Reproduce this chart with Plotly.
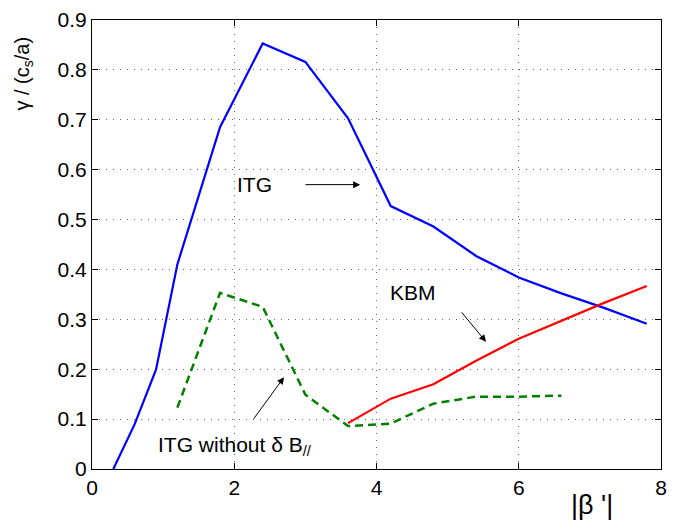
import plotly.graph_objects as go

# ITG (blue)
itg_x = [0.3, 0.6, 0.9, 1.2, 1.8, 2.4, 3.0, 3.6, 4.2, 4.8, 5.4, 6.0, 6.6, 7.2, 7.8]
itg_y = [0.0, 0.09, 0.199, 0.41, 0.685, 0.853, 0.816, 0.703, 0.527, 0.486, 0.427, 0.384, 0.352, 0.323, 0.291]

# KBM (red)
kbm_x = [3.6, 4.2, 4.8, 5.4, 6.0, 6.6, 7.2, 7.8]
kbm_y = [0.092, 0.141, 0.170, 0.217, 0.261, 0.297, 0.333, 0.367]

# ITG without dB_par (green dashed)
itg_nb_x = [1.2, 1.8, 2.4, 3.0, 3.6, 4.2, 4.8, 5.4, 6.0, 6.6]
itg_nb_y = [0.123, 0.353, 0.325, 0.149, 0.086, 0.091, 0.131, 0.145, 0.145, 0.147]

x_ticks = [0, 2, 4, 6, 8]
y_ticks = [0, 0.1, 0.2, 0.3, 0.4, 0.5, 0.6, 0.7, 0.8, 0.9]

FONT = "Liberation Sans, Arial, Helvetica, sans-serif"

fig = go.Figure()
fig.add_trace(go.Scatter(x=itg_x, y=itg_y, mode="lines",
                         line=dict(color="#0000FF", width=2.2), showlegend=False))
fig.add_trace(go.Scatter(x=kbm_x, y=kbm_y, mode="lines",
                         line=dict(color="#FF0000", width=2.2), showlegend=False))
fig.add_trace(go.Scatter(x=itg_nb_x, y=itg_nb_y, mode="lines",
                         line=dict(color="#008000", width=2.5, dash="8px,5px"), showlegend=False))

axis_common = dict(
    showline=True, linecolor="black", linewidth=1.2, mirror="ticks",
    ticks="inside", ticklen=6, tickcolor="black",
    showgrid=True, gridcolor="#666", gridwidth=1, griddash="1px,6px",
    zeroline=False, tickfont=dict(size=21, color="black", family=FONT),
)

fig.update_layout(
    width=675, height=529,
    margin=dict(l=92, r=8, t=13, b=60),
    paper_bgcolor="white", plot_bgcolor="white",
    font=dict(family=FONT, color="black"),
    xaxis=dict(range=[0, 8], tickvals=x_ticks, ticktext=[str(v) for v in x_ticks], **axis_common),
    yaxis=dict(range=[0, 0.9], tickvals=y_ticks, ticktext=["0"] + [f"{v:.1f}" for v in y_ticks[1:]], **axis_common),
)

anns = [
    # y title
    dict(text="γ / (c<sub>s</sub>/a)", xref="paper", yref="paper", x=-0.12, y=0.88,
         textangle=-90, showarrow=False, font=dict(size=20), xanchor="center", yanchor="middle"),
    # x title
    dict(text="|β '|", xref="paper", yref="paper", x=0.879, y=-0.081,
         showarrow=False, font=dict(size=27), xanchor="center", yanchor="middle"),
    # labels
    dict(text="ITG", x=2.29, y=0.570, xref="x", yref="y", showarrow=False,
         font=dict(size=21), xanchor="center", yanchor="middle"),
    dict(text="KBM", x=4.52, y=0.353, xref="x", yref="y", showarrow=False,
         font=dict(size=21), xanchor="center", yanchor="middle"),
    dict(text="ITG without δ B<sub>//</sub>", x=0.905, y=0.047, xref="x", yref="y", showarrow=False,
         font=dict(size=21), xanchor="left", yanchor="middle"),
    # arrows
    dict(x=3.77, y=0.570, ax=2.98, ay=0.570, xref="x", yref="y", axref="x", ayref="y",
         text="", showarrow=True, arrowhead=2, arrowsize=1.4, arrowwidth=1, arrowcolor="black"),
    dict(x=5.54, y=0.255, ax=5.18, ay=0.317, xref="x", yref="y", axref="x", ayref="y",
         text="", showarrow=True, arrowhead=2, arrowsize=1.4, arrowwidth=1, arrowcolor="black"),
    dict(x=2.70, y=0.184, ax=2.26, ay=0.098, xref="x", yref="y", axref="x", ayref="y",
         text="", showarrow=True, arrowhead=2, arrowsize=1.4, arrowwidth=1, arrowcolor="black"),
]
fig.update_layout(annotations=anns)

fig.write_html("out.html")
